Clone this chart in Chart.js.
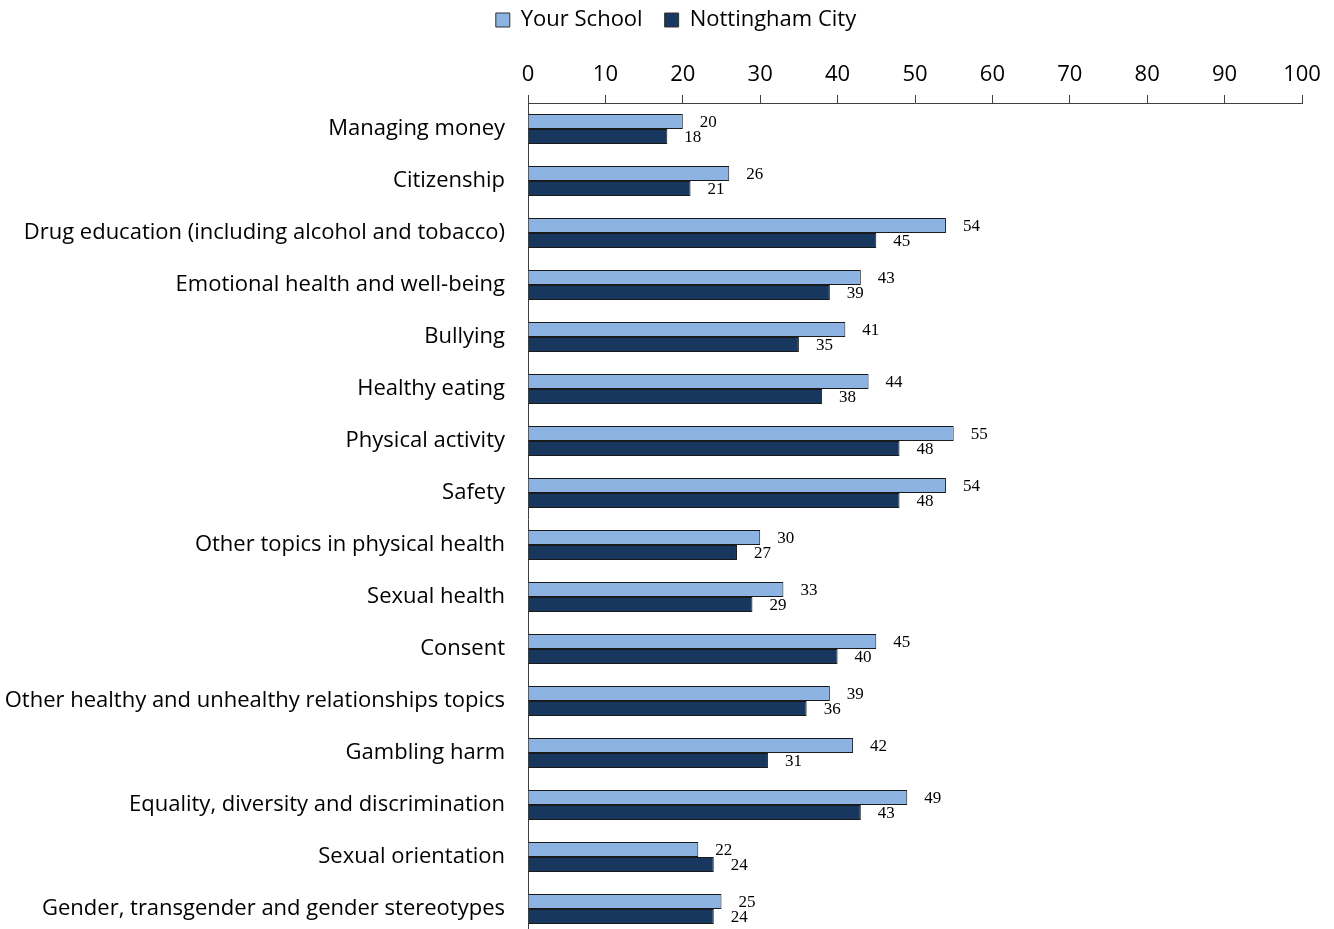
<!DOCTYPE html>
<html>
<head>
<meta charset="utf-8">
<script src="https://cdn.jsdelivr.net/npm/chart.js@4"></script>
<style>
html,body{margin:0;padding:0;background:#fff;overflow:hidden;}
canvas{display:block;}
</style>
</head>
<body>
<canvas id="c" width="1334" height="936"></canvas>
<script>
const categories = [
  "Managing money",
  "Citizenship",
  "Drug education (including alcohol and tobacco)",
  "Emotional health and well-being",
  "Bullying",
  "Healthy eating",
  "Physical activity",
  "Safety",
  "Other topics in physical health",
  "Sexual health",
  "Consent",
  "Other healthy and unhealthy relationships topics",
  "Gambling harm",
  "Equality, diversity and discrimination",
  "Sexual orientation",
  "Gender, transgender and gender stereotypes"
];
const yourSchool = [20, 26, 54, 43, 41, 44, 55, 54, 30, 33, 45, 39, 42, 49, 22, 25];
const nottinghamCity = [18, 21, 45, 39, 35, 38, 48, 48, 27, 29, 40, 36, 31, 43, 24, 24];
const seriesNames = ["Your School", "Nottingham City"];
const xTicks = [0, 10, 20, 30, 40, 50, 60, 70, 80, 90, 100];

const FONT = "'Open Sans', 'Noto Sans', sans-serif";
const CHART_LEFT = 528;
const CHART_TOP = 103;
const PAD_TOP = -13;

const labelPlugin = {
  id: 'valueLabels',
  afterLayout(chart) {
    const lg = chart.legend;
    if (lg) { lg.left += 25; lg.right += 25; }
  },
  afterDatasetsDraw(chart) {
    const ctx = chart.ctx;
    ctx.save();
    ctx.font = "17px 'Liberation Serif', 'DejaVu Serif', serif";
    ctx.fillStyle = "#000";
    ctx.textAlign = "left";
    ctx.textBaseline = "middle";
    chart.data.datasets.forEach((ds, di) => {
      const meta = chart.getDatasetMeta(di);
      meta.data.forEach((bar, i) => {
        ctx.fillText(String(ds.data[i]), bar.x + 17, bar.y + 1);
      });
    });
    ctx.restore();
  }
};

new Chart(document.getElementById('c'), {
  type: 'bar',
  data: {
    labels: categories,
    datasets: [
      {
        label: seriesNames[0],
        data: yourSchool,
        backgroundColor: '#8DB3E2',
        borderColor: '#1a1a1a',
        borderWidth: 1,
        borderSkipped: 'start'
      },
      {
        label: seriesNames[1],
        data: nottinghamCity,
        backgroundColor: '#17375E',
        borderColor: '#1a1a1a',
        borderWidth: 1,
        borderSkipped: 'start'
      }
    ]
  },
  options: {
    indexAxis: 'y',
    responsive: false,
    animation: false,
    layout: { padding: { left: 0, right: 32, top: PAD_TOP, bottom: 1 } },
    datasets: {
      bar: { categoryPercentage: 0.58, barPercentage: 1.0 }
    },
    plugins: {
      legend: {
        position: 'top',
        align: 'center',
        labels: {
          font: { family: FONT, size: 22 },
          color: '#000',
          boxWidth: 14,
          boxHeight: 14,
          padding: 22,
          generateLabels(chart) {
            return chart.data.datasets.map((ds, i) => ({
              text: ds.label,
              fillStyle: ds.backgroundColor,
              strokeStyle: '#333',
              lineWidth: 1,
              datasetIndex: i,
              hidden: false
            }));
          }
        }
      },
      tooltip: { enabled: false }
    },
    scales: {
      x: {
        position: 'top',
        min: 0,
        max: 100,
        afterBuildTicks(scale) {
          scale.ticks = xTicks.map(v => ({ value: v }));
        },
        afterFit(scale) {
          const lg = scale.chart.legend;
          scale.height = CHART_TOP - PAD_TOP - (lg ? lg.height : 0);
        },
        ticks: {
          font: { family: FONT, size: 22 },
          color: '#000',
          padding: 7
        },
        grid: {
          drawOnChartArea: false,
          drawTicks: true,
          tickLength: 8,
          color: '#404040'
        },
        border: { display: true, color: '#404040', width: 1 }
      },
      y: {
        afterFit(scale) {
          scale.width = CHART_LEFT;
          scale.paddingTop = 0;
          scale.paddingBottom = 0;
        },
        ticks: {
          font: { family: FONT, size: 22 },
          color: '#000',
          padding: 23,
          autoSkip: false
        },
        grid: { display: false, drawTicks: false },
        border: { display: true, color: '#404040', width: 1 }
      }
    }
  },
  plugins: [labelPlugin]
});
</script>
</body>
</html>
